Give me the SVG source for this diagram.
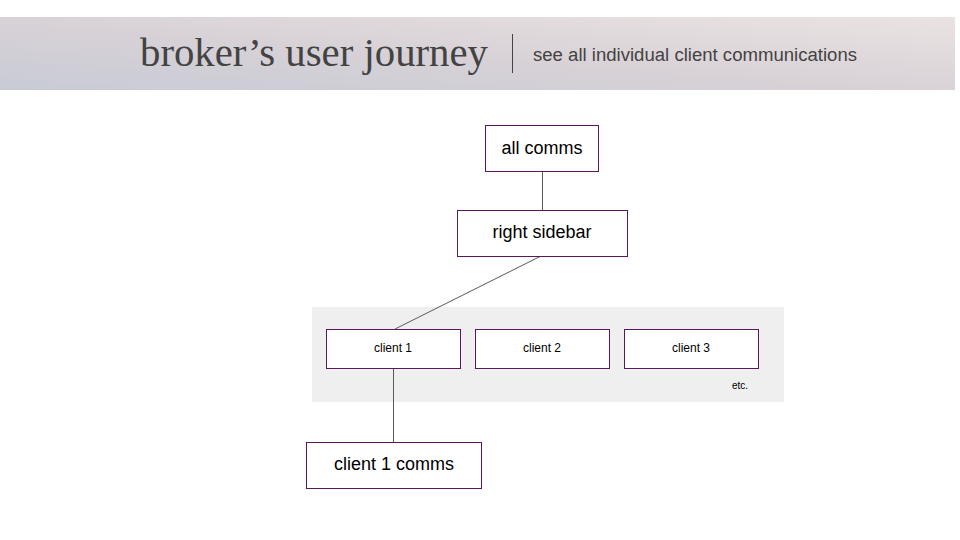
<svg xmlns="http://www.w3.org/2000/svg" width="960" height="540" viewBox="0 0 960 540">
  <defs>
    <linearGradient id="hdr" x1="0" y1="1" x2="1" y2="0">
      <stop offset="0" stop-color="#c8cbd5"/>
      <stop offset="0.5" stop-color="#d9d2d7"/>
      <stop offset="1" stop-color="#ebe3e2"/>
    </linearGradient>
    <style>
      .box { fill: #ffffff; stroke: #5b165e; stroke-width: 1; }
      .lbl { font-family: "Liberation Sans", Arial, sans-serif; fill: #000000; text-anchor: middle; }
      .big { font-size: 18px; }
      .small { font-size: 12px; }
      .conn { stroke: #595959; stroke-width: 1; fill: none; }
    </style>
  </defs>
  <rect width="960" height="540" fill="#ffffff"/>
  <g id="header">
    <rect x="0" y="17" width="955" height="73" fill="url(#hdr)"/>
    <text x="140" y="66" font-family="'Liberation Serif', 'Times New Roman', serif" font-size="40" fill="#434343" textLength="348" lengthAdjust="spacingAndGlyphs">broker’s user journey</text>
    <line x1="512.5" y1="34" x2="512.5" y2="73" stroke="#434343" stroke-width="1"/>
    <text x="533" y="61" font-family="'Liberation Sans', Arial, sans-serif" font-size="18" fill="#434343" textLength="324" lengthAdjust="spacingAndGlyphs">see all individual client communications</text>
  </g>
  <g id="clients-area">
    <rect x="312" y="307" width="472" height="95" fill="#efefef"/>
    <text x="740" y="389" font-family="'Liberation Sans', Arial, sans-serif" font-size="10" fill="#000000" text-anchor="middle">etc.</text>
  </g>
  <g id="connectors">
    <line class="conn" x1="542.5" y1="172" x2="542.5" y2="210"/>
    <line class="conn" x1="541" y1="256" x2="395" y2="329"/>
    <line class="conn" x1="393.5" y1="368" x2="393.5" y2="442"/>
  </g>
  <g id="all-comms">
    <rect class="box" x="485.5" y="125.5" width="113" height="46"/>
    <text class="lbl big" x="542" y="154">all comms</text>
  </g>
  <g id="right-sidebar">
    <rect class="box" x="457.5" y="210.5" width="170" height="46"/>
    <text class="lbl big" x="542" y="238">right sidebar</text>
  </g>
  <g id="client-1">
    <rect class="box" x="326.5" y="329.5" width="134" height="39"/>
    <text class="lbl small" x="393" y="352">client 1</text>
  </g>
  <g id="client-2">
    <rect class="box" x="475.5" y="329.5" width="134" height="39"/>
    <text class="lbl small" x="542" y="352">client 2</text>
  </g>
  <g id="client-3">
    <rect class="box" x="624.5" y="329.5" width="134" height="39"/>
    <text class="lbl small" x="691" y="352">client 3</text>
  </g>
  <g id="client-1-comms">
    <rect class="box" x="306.5" y="442.5" width="175" height="46"/>
    <text class="lbl big" x="394" y="470">client 1 comms</text>
  </g>
</svg>
